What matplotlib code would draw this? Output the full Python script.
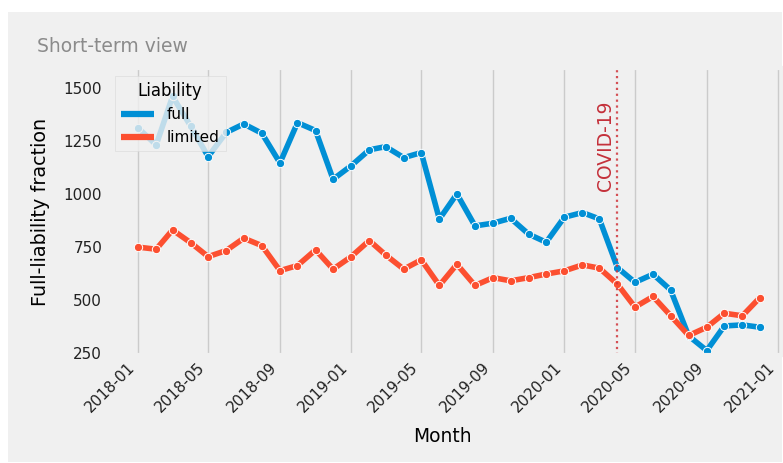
import matplotlib
matplotlib.use('Agg')
import matplotlib.pyplot as plt
import matplotlib.dates as mdates
from matplotlib.lines import Line2D
from matplotlib.patches import Rectangle
import pandas as pd

plt.style.use('fivethirtyeight')
plt.rcParams.update({'font.family': 'DejaVu Sans', 'font.size': 11})

# monthly values
months = pd.date_range('2018-01-01', '2020-12-01', freq='MS')
full = [1311, 1231, 1460, 1320, 1176, 1290, 1330, 1286, 1146, 1336, 1299, 1069,
        1133, 1208, 1223, 1171, 1195, 881, 1000, 849, 862, 885, 810, 772,
        890, 912, 882, 652, 583, 621, 547, 330, 261, 377, 382, 371]
limited = [749, 739, 830, 770, 704, 733, 791, 756, 638, 662, 736, 645,
           704, 780, 712, 645, 689, 568, 668, 568, 605, 590, 605, 622,
           637, 665, 650, 574, 466, 516, 426, 332, 371, 437, 425, 511]
series_names = ['full', 'limited']
colors = ['#008fd5', '#fc4f30']
covid_date = pd.Timestamp('2020-04-01')
yticks = [250, 500, 750, 1000, 1250, 1500]

W, H = 783, 463
fig = plt.figure(figsize=(W / 100, H / 100), dpi=100, facecolor='white')
fig.patches.append(Rectangle((8 / W, 1 / H), (782 - 8) / W, (462 - 12) / H,
                             transform=fig.transFigure, facecolor='#f0f0f0',
                             edgecolor='none', zorder=-10))

ax = fig.add_axes([107 / W, 108 / H, (791 - 107) / W, (355 - 68) / H])

for vals, name, c in zip([full, limited], series_names, colors):
    ax.plot(months, vals, color=c, lw=4, marker='o', markersize=6,
            markeredgecolor='white', markeredgewidth=0.7, label=name)

ax.axvline(covid_date, color='#d0343a', ls=':', lw=1.6, alpha=0.85)
ax.text(covid_date - pd.Timedelta(days=4), 1440, 'COVID-19', rotation=90,
        ha='right', va='top', color='#c4303a', fontsize=13.5)

ax.set_ylim(240, 1594)
ax.set_yticks(yticks)
ax.grid(axis='y', visible=False)
ax.grid(axis='x', color='#cbcbcb', lw=1.0)
ax.xaxis.set_major_locator(mdates.MonthLocator(bymonth=[1, 5, 9]))
ax.xaxis.set_major_formatter(mdates.DateFormatter('%Y-%m'))
plt.setp(ax.get_xticklabels(), rotation=45, ha='right', fontsize=11, color='#222222')
plt.setp(ax.get_yticklabels(), fontsize=11, color='#222222')
ax.set_xlabel('Month', fontsize=13.4)
ax.set_ylabel('Full-liability fraction', fontsize=13.8)
ax.yaxis.set_label_coords(-0.084, 0.5)
ax.xaxis.set_label_coords(0.49, -0.25)

handles = [Line2D([], [], color=c, lw=4.5) for c in colors]
leg = ax.legend(handles, series_names, title='Liability', loc='upper left',
                fontsize=11, title_fontsize=12, fancybox=False, handlelength=2.2)
leg.get_frame().set_edgecolor('#d8d8d8')
leg.get_frame().set_facecolor('#f0f0f0')

fig.text(37 / W, 1 - 46 / H, 'Short-term view', fontsize=13.5, color='#8b8b8b',
         ha='left', va='center')

fig.savefig('out.png', dpi=100, facecolor='white')
